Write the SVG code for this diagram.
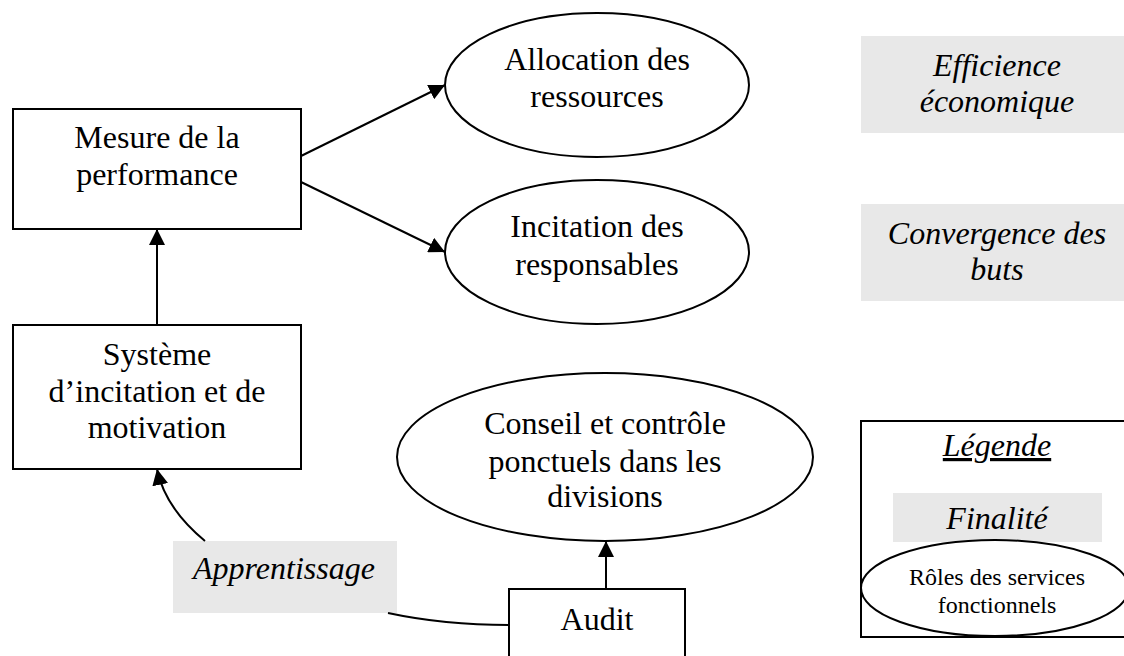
<svg xmlns="http://www.w3.org/2000/svg" width="1124" height="656" viewBox="0 0 1124 656">
<style>
text{font-family:"Liberation Serif","Times New Roman",serif;font-size:32px;fill:#000;text-anchor:middle}
.it{font-style:italic}
.sm{font-size:24px}
.box{fill:#fff;stroke:#000;stroke-width:2}
.ell{fill:#fff;stroke:#000;stroke-width:2}
.fin{fill:#e8e8e8;stroke:none}
.con{fill:none;stroke:#000;stroke-width:2}
</style>
<defs>
<marker id="ah" markerUnits="userSpaceOnUse" markerWidth="16" markerHeight="16" viewBox="0 0 16 16" refX="16" refY="8" orient="auto">
<path d="M0,0 L16,8 L0,16 Z" fill="#000"/>
</marker>
</defs>
<rect width="1124" height="656" fill="#fff"/>

<g id="efficience">
<rect class="fin" x="861" y="36" width="270" height="97"/>
<text class="it" x="997" y="76">Efficience</text>
<text class="it" x="997" y="112">économique</text>
</g>
<g id="convergence">
<rect class="fin" x="861" y="204" width="270" height="97"/>
<text class="it" x="997" y="244">Convergence des</text>
<text class="it" x="997" y="280">buts</text>
</g>

<g id="mesure">
<rect class="box" x="13" y="109" width="288" height="120"/>
<text x="157" y="148">Mesure de la</text>
<text x="157" y="185">performance</text>
</g>
<g id="allocation">
<ellipse class="ell" cx="597" cy="85" rx="152" ry="72"/>
<text x="597" y="70">Allocation des</text>
<text x="597" y="107">ressources</text>
</g>
<g id="incitation">
<ellipse class="ell" cx="597" cy="252" rx="152" ry="72"/>
<text x="597" y="237">Incitation des</text>
<text x="597" y="275">responsables</text>
</g>
<g id="systeme">
<rect class="box" x="13" y="325" width="288" height="144"/>
<text x="157" y="365">Système</text>
<text x="157" y="402">d’incitation et de</text>
<text x="157" y="438">motivation</text>
</g>
<g id="conseil">
<ellipse class="ell" cx="605" cy="457" rx="208" ry="84"/>
<text x="605" y="434">Conseil et contrôle</text>
<text x="605" y="472">ponctuels dans les</text>
<text x="605" y="507">divisions</text>
</g>
<g id="apprentissage">
<rect class="fin" x="173" y="541" width="224" height="72"/>
<text class="it" x="284" y="579">Apprentissage</text>
</g>
<g id="audit">
<rect class="box" x="509" y="589" width="176" height="80"/>
<text x="597" y="630">Audit</text>
</g>
<g id="legende">
<rect class="box" x="861" y="421" width="270" height="216"/>
<text class="it" x="997" y="456" text-decoration="underline">Légende</text>
<rect class="fin" x="893" y="493" width="209" height="49"/>
<text class="it" x="997" y="529">Finalité</text>
<ellipse class="ell" cx="995" cy="588" rx="134" ry="48"/>
<text class="sm" x="997" y="585">Rôles des services</text>
<text class="sm" x="997" y="613">fonctionnels</text>
</g>

<g id="connectors">
<line class="con" x1="301" y1="156" x2="445" y2="85" marker-end="url(#ah)"/>
<line class="con" x1="301" y1="182" x2="445" y2="252" marker-end="url(#ah)"/>
<line class="con" x1="157" y1="325" x2="157" y2="229" marker-end="url(#ah)"/>
<path class="con" d="M205,541 Q165,508 157,469" marker-end="url(#ah)"/>
<line class="con" x1="606" y1="589" x2="606" y2="541" marker-end="url(#ah)"/>
<path class="con" d="M388,613 C430,622 465,625 509,625"/>
</g>
</svg>
